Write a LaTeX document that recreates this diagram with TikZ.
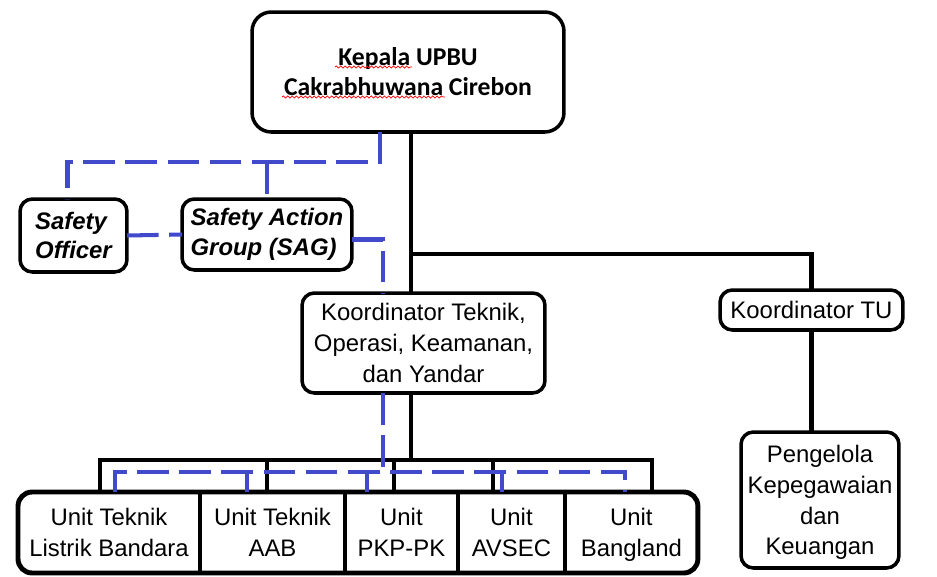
\documentclass[tikz,border=0pt]{standalone}
\usepackage{fontspec}
\setmainfont{Liberation Sans}
\newfontfamily\calfont{Carlito}
\usepackage{xcolor}
\usetikzlibrary{decorations.pathmorphing}
\definecolor{dblue}{RGB}{66,74,204}

\begin{document}
\begin{tikzpicture}[x=0.02cm,y=-0.02cm,
  box/.style={draw,line width=2pt,rounded corners=7pt,align=center,inner sep=0pt,outer sep=0pt,font=\fontsize{13.6}{17.5}\selectfont},
  cell/.style={align=center,inner sep=0pt,outer sep=0pt,minimum height=1.62cm,font=\fontsize{13.6}{18}\selectfont},
  sline/.style={line width=2.3pt},
  dline/.style={line width=2.3pt,draw=dblue,dash pattern=on 18pt off 6pt}]
\useasboundingbox (0,0) rectangle (937,576);
% boxes
\node[box,rounded corners=11pt,minimum width=6.24cm,minimum height=2.4cm,font=\calfont\bfseries\fontsize{14.6}{17}\selectfont] (kepala) at (408,72) {Kepala UPBU\\Cakrabhuwana Cirebon};
\node[box,minimum width=2.14cm,minimum height=1.46cm,align=left,font=\bfseries\itshape\fontsize{13.6}{17}\selectfont] (so) at (73.5,235.5) {Safety\\Officer};
\node[box,minimum width=3.4cm,minimum height=1.42cm,align=left,font=\bfseries\itshape\fontsize{13.6}{17}\selectfont] (sag) at (267,234.5) {Safety Action\\Group (SAG)};
\node[box,minimum width=4.86cm,minimum height=2cm] (kortek) at (423.5,343) {Koordinator Teknik,\\Operasi, Keamanan,\\dan Yandar};
\node[box,minimum width=3.66cm,minimum height=0.8cm] (kortu) at (811.5,310) {Koordinator TU};
\node[box,minimum width=3.16cm,minimum height=2.72cm] (peng) at (820,500) {Pengelola\\Kepegawaian\\dan\\\smash{Keuangan}};
% unit row
\node[cell,minimum width=3.64cm] (u1) at (109,532.5) {Unit Teknik\\Listrik Bandara};
\node[cell,minimum width=2.9cm,anchor=west] (u2) at (u1.east) {Unit Teknik\\AAB};
\node[cell,minimum width=2.26cm,anchor=west] (u3) at (u2.east) {Unit\\PKP-PK};
\node[cell,minimum width=2.14cm,anchor=west] (u4) at (u3.east) {Unit\\AVSEC};
\node[cell,minimum width=2.66cm,anchor=west] (u5) at (u4.east) {Unit\\\smash{Bangland}};
\draw[line width=2.8pt,rounded corners=8pt] (u1.north west) rectangle (u5.south east);
\foreach \i in {1,...,4} \draw[line width=2pt] (u\i.north east) -- (u\i.south east);
% spell-check marks
\draw[red,line width=0.4pt,decorate,decoration={snake,amplitude=0.6pt,segment length=2.5pt}] (335,67) -- (412,67);
\draw[red,line width=0.4pt,decorate,decoration={snake,amplitude=0.6pt,segment length=2.5pt}] (282,97) -- (445,97);
% line of command
\coordinate (tj) at (411,254);
\coordinate (kl) at (100,460);
\coordinate (kr) at (652,460);
\draw[sline] (kepala.south -| tj) -- (kortek.north -| tj);
\draw[sline] (tj) -| (kortu.north);
\draw[sline] (kortu.south) -- (kortu.south |- peng.north);
\draw[sline] (kortek.south -| tj) -- (tj |- kl);
\draw[sline] (kl |- u1.north) |- (kr) -- (kr |- u5.north);
\foreach \u/\x in {u2/267,u3/394,u4/493} {
  \coordinate (d) at (\x,460);
  \draw[sline] (d) -- (d |- \u.north);
}
% line of coordination
\coordinate (sj) at (380,162);
\coordinate (bl) at (115,472);
\coordinate (br) at (625,472);
\coordinate (bj) at (383,472);
\draw[dline] (kepala.south -| sj) -- (sj) -| ([xshift=-0.12cm]so.north);
\draw[dline] (sag.north |- sj) -- (sag.north);
\draw[dline] (so.east) -- (sag.west);
\draw[dline] ([yshift=-0.1cm]sag.east) -| (kortek.north -| bj);
\draw[dline] (kortek.south -| bj) -- (bj);
\draw[dline] (bl |- u1.north) |- (br) -- (br |- u5.north);
\foreach \u/\x in {u2/247,u3/367,u4/502} {
  \coordinate (d) at (\x,472);
  \draw[dline] (d) -- (d |- \u.north);
}
\end{tikzpicture}
\end{document}
